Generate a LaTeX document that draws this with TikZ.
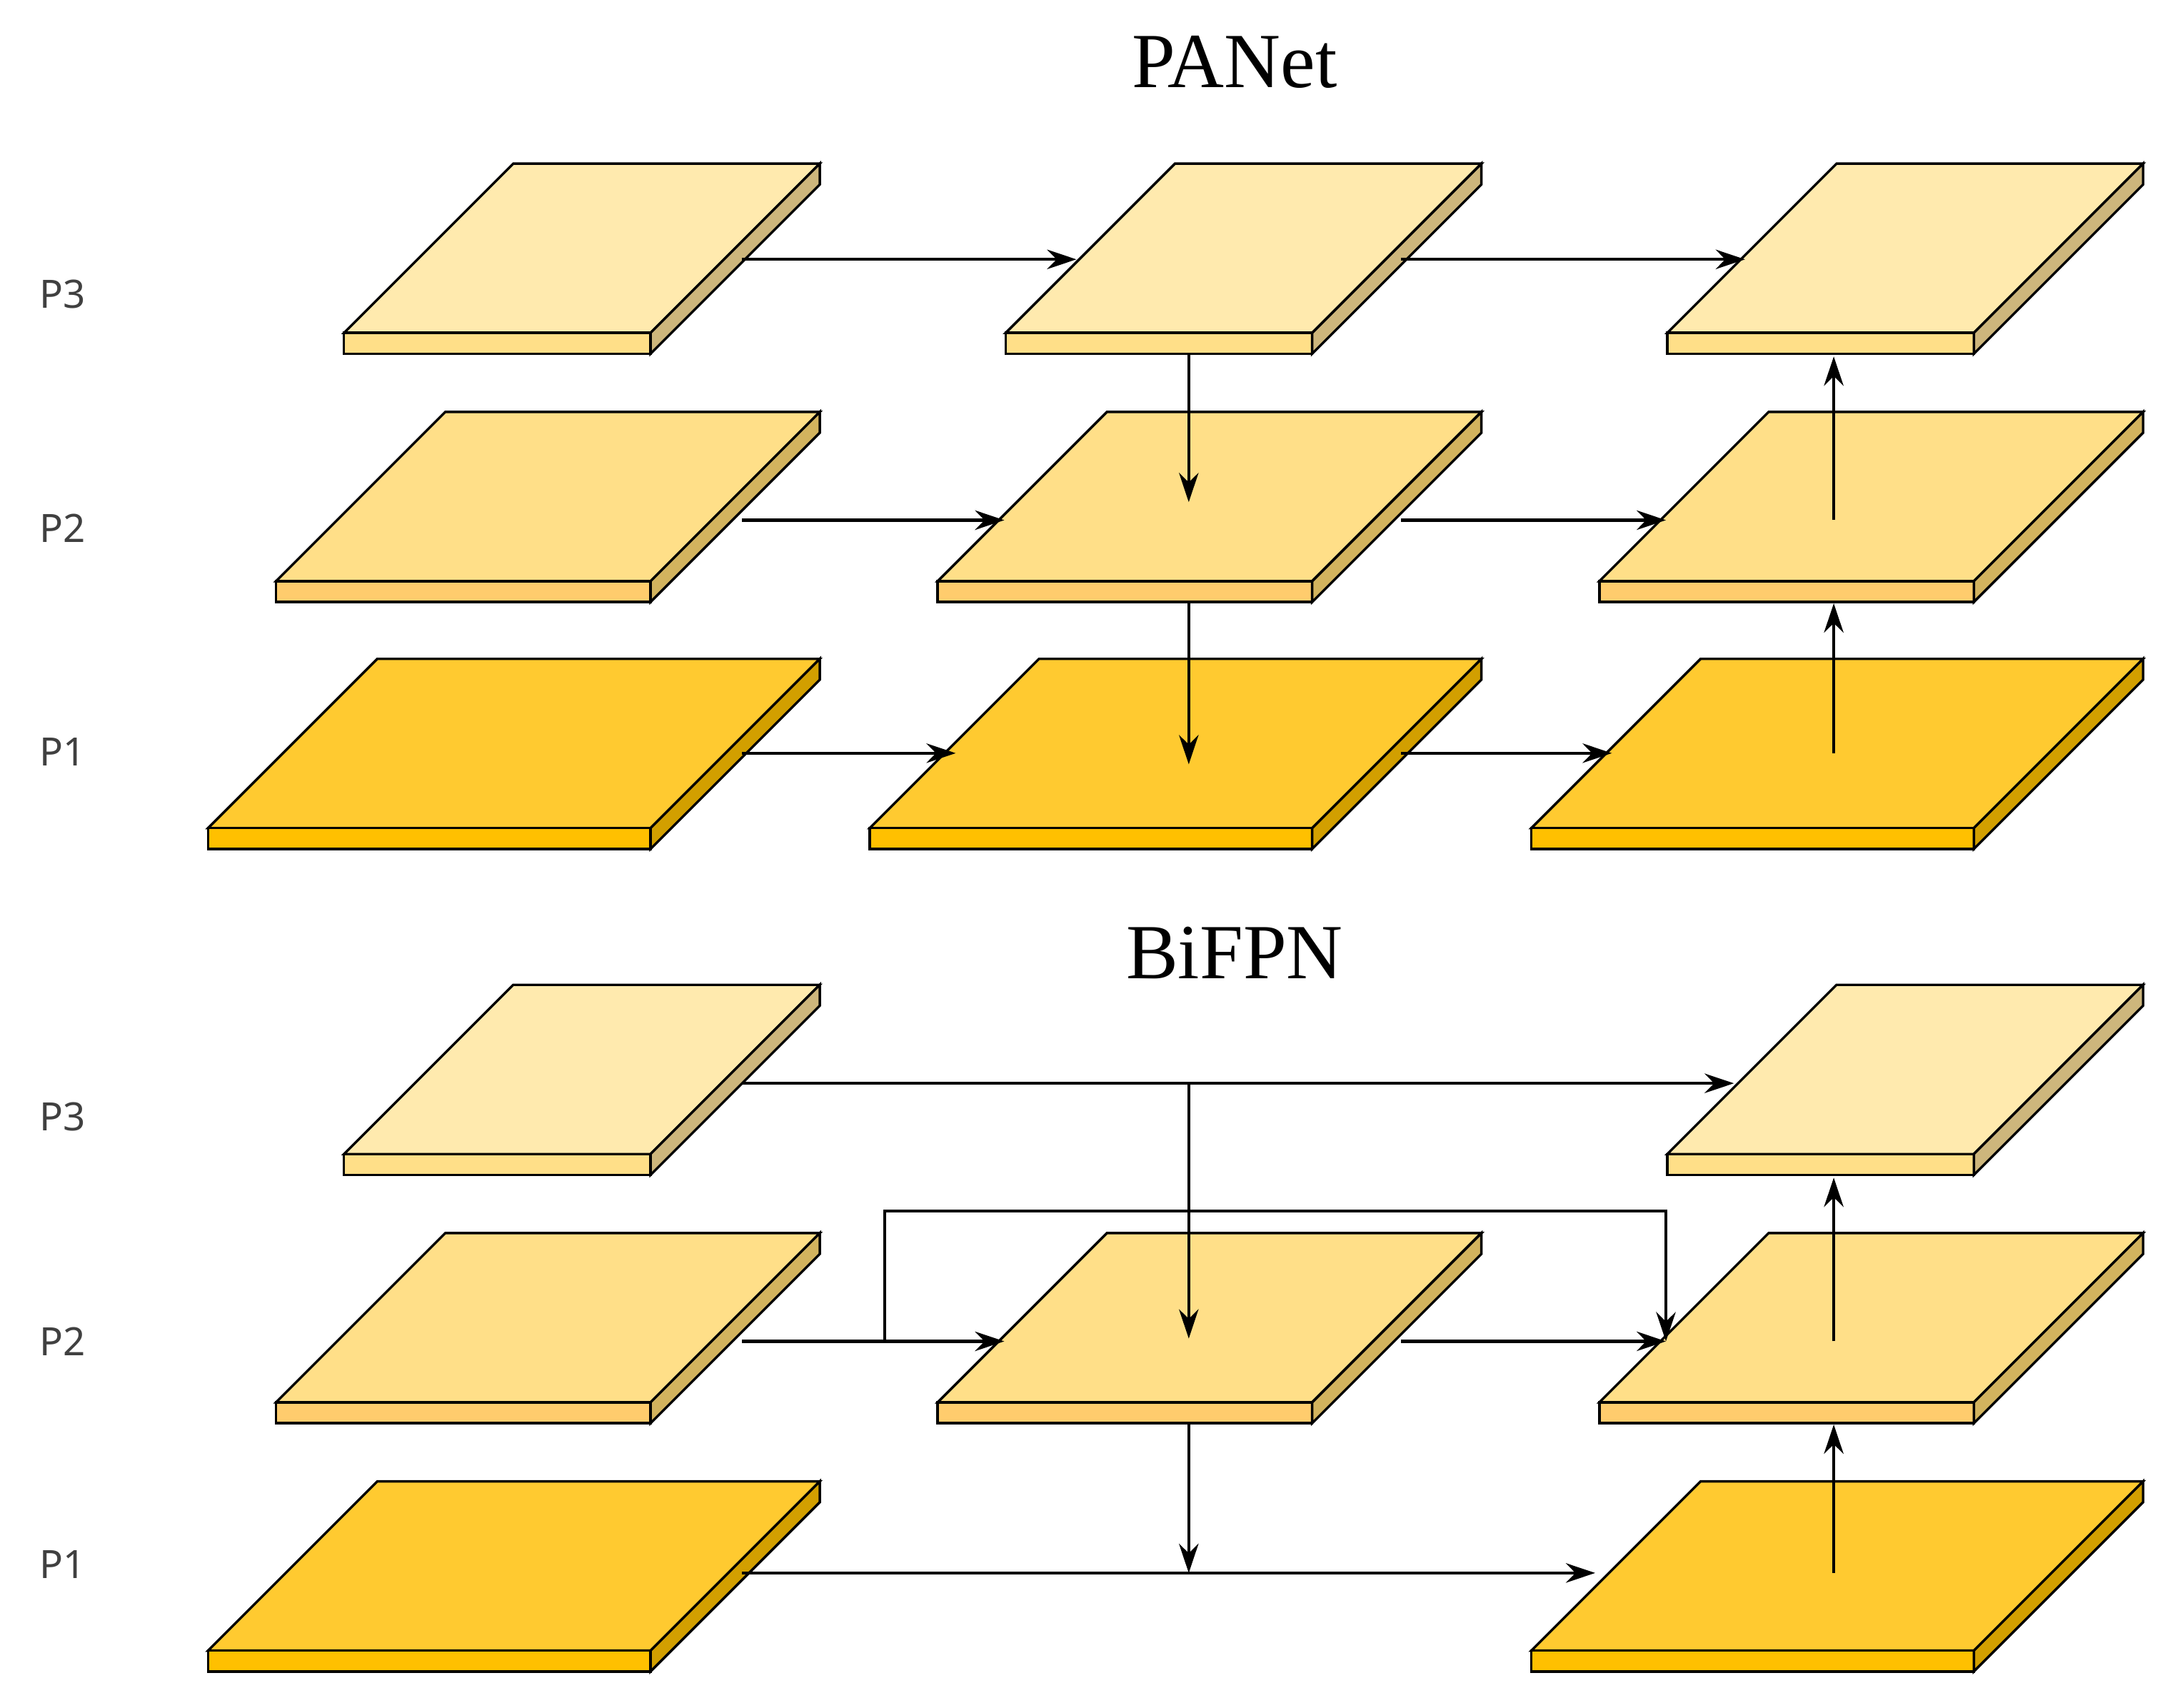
\documentclass[tikz,border=0pt]{standalone}
\usepackage{fontspec}
\setmainfont{Liberation Serif}
\newfontfamily\labelfont{Noto Sans}
\usetikzlibrary{arrows.meta}

\definecolor{topthree}{HTML}{FFEAAE}
\definecolor{sidethree}{HTML}{CDB67C}
\definecolor{toptwo}{HTML}{FFDF88}
\definecolor{sidetwo}{HTML}{D2B35E}
\definecolor{topone}{HTML}{FFCA30}
\definecolor{frontone}{HTML}{FFC000}
\definecolor{sideone}{HTML}{D29F00}

\tikzset{
  link/.style={-{Stealth[length=6pt,width=4pt]}, line width=0.6pt},
  level/.style={font=\labelfont\fontsize{8}{8}\selectfont, text=black!75},
  title/.style={font=\fontsize{16}{16}\selectfont}
}

% #1 front-left x, #2 front-right x, #3 front y, #4 top, #5 front, #6 side
\newcommand{\plate}[6]{%
  \filldraw[draw=black, line width=0.5pt, fill=#4] (#1,#3) -- (#2,#3) -- (#2+122,#3-122) -- (#1+122,#3-122) -- cycle;
  \filldraw[draw=black, line width=0.5pt, fill=#5] (#1,#3) rectangle (#2,#3+15);
  \filldraw[draw=black, line width=0.5pt, fill=#6] (#2,#3) -- (#2+122,#3-122) -- (#2+122,#3-107) -- (#2,#3+15) -- cycle;
}

\begin{document}
\begin{tikzpicture}[x=0.01cm, y=-0.01cm]
    \useasboundingbox (0,0) rectangle (1568,1231);

    % Titles
    \node[title] (tpa) at (890,45) {PANet};
    \node[title] (tbi) at (890,687) {BiFPN};

    % Level labels
    \foreach \name/\y/\t in {a3/212/P3, a2/381/P2, a1/542/P1, b3/805/P3, b2/967/P2, b1/1128/P1}
        \node[level] (lab\name) at (45,\y) {\t};

    % PANet plates
    \foreach \dx in {0,477,954} {
        \plate{248+\dx}{469+\dx}{240}{topthree}{toptwo}{sidethree}
        \plate{199+\dx}{469+\dx}{419}{toptwo}{toptwo!80!orange}{sidetwo}
        \plate{150+\dx}{469+\dx}{597}{topone}{frontone}{sideone}
    }

    % BiFPN plates
    \plate{248}{469}{832}{topthree}{toptwo}{sidethree}
    \plate{1202}{1423}{832}{topthree}{toptwo}{sidethree}
    \foreach \dx in {0,477,954} {
        \plate{199+\dx}{469+\dx}{1011}{toptwo}{toptwo!80!orange}{sidetwo}
    }
    \plate{150}{469}{1190}{topone}{frontone}{sideone}
    \plate{1104}{1423}{1190}{topone}{frontone}{sideone}

    % PANet connectors
    \coordinate (pa3o) at (535,187);  \coordinate (pb3i) at (776,187);
    \coordinate (pb3o) at (1010,187); \coordinate (pc3i) at (1258,187);
    \coordinate (pa2o) at (535,375);  \coordinate (pb2i) at (724,375);
    \coordinate (pb2o) at (1010,375); \coordinate (pc2i) at (1201,375);
    \coordinate (pa1o) at (535,543);  \coordinate (pb1i) at (689,543);
    \coordinate (pb1o) at (1010,543); \coordinate (pc1i) at (1162,543);
    \coordinate (pdn3) at (857,255);  \coordinate (pdn2) at (857,362);
    \coordinate (pdn2b) at (857,433); \coordinate (pdn1) at (857,551);
    \coordinate (pup1) at (1322,543); \coordinate (pup1e) at (1322,435);
    \coordinate (pup2) at (1322,375); \coordinate (pup2e) at (1322,257);
    \draw[link] (pa3o) -- (pb3i);
    \draw[link] (pb3o) -- (pc3i);
    \draw[link] (pa2o) -- (pb2i);
    \draw[link] (pb2o) -- (pc2i);
    \draw[link] (pa1o) -- (pb1i);
    \draw[link] (pb1o) -- (pc1i);
    \draw[link] (pdn3) -- (pdn2);
    \draw[link] (pdn2b) -- (pdn1);
    \draw[link] (pup1) -- (pup1e);
    \draw[link] (pup2) -- (pup2e);

    % BiFPN connectors
    \coordinate (ba3o) at (535,781);  \coordinate (bc3i) at (1250,781);
    \coordinate (bsplit) at (857,781); \coordinate (bdn2) at (857,965);
    \coordinate (ba2o) at (535,967);  \coordinate (bb2i) at (724,967);
    \coordinate (bb2o) at (1010,967); \coordinate (bc2i) at (1201,967);
    \coordinate (bskip) at (638,967);
    \coordinate (ba1o) at (535,1134); \coordinate (bc1i) at (1150,1134);
    \coordinate (bdn1) at (857,1025); \coordinate (bmeet) at (857,1134);
    \coordinate (bup1) at (1322,1134); \coordinate (bup1e) at (1322,1027);
    \coordinate (bup2) at (1322,967);  \coordinate (bup2e) at (1322,849);
    \draw[link] (ba3o) -- (bc3i);
    \draw[link] (bsplit) -- (bdn2);
    \draw[link] (ba2o) -- (bb2i);
    \draw[link] (bb2o) -- (bc2i);
    \draw[link] (bskip) -- (638,873) -- (1201,873) -- (bc2i);
    \draw[link] (ba1o) -- (bc1i);
    \draw[link] (bdn1) -- (bmeet);
    \draw[link] (bup1) -- (bup1e);
    \draw[link] (bup2) -- (bup2e);
\end{tikzpicture}
\end{document}
